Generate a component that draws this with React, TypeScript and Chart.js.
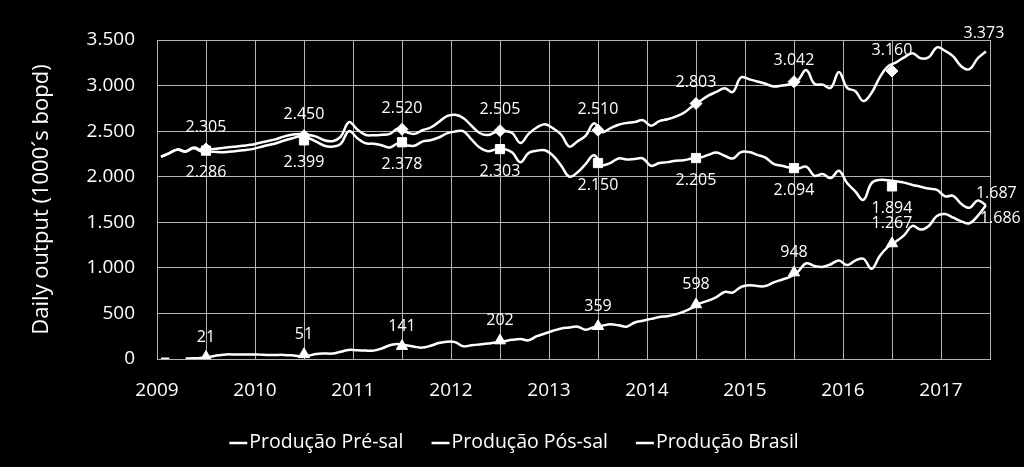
import React, { useEffect, useRef } from 'react';
import { Chart, registerables } from 'chart.js';

Chart.register(...registerables);

const FONT = '"Open Sans", sans-serif';
const GRID = '#b4b4b4';

// Monthly production, Jan 2009 .. Jun 2017 (1000 bopd)
const startYear = 2009;

const brasilMonthly = [
  2220, 2260, 2300, 2280, 2320, 2290, 2300, 2310, 2320, 2330, 2340, 2350,
  2370, 2390, 2410, 2440, 2460, 2470, 2460, 2440, 2400, 2390, 2440, 2600,
  2520, 2460, 2455, 2460, 2470, 2525, 2490, 2470, 2510, 2540, 2600, 2665,
  2680, 2645, 2560, 2480, 2457, 2490, 2500, 2480, 2370, 2470, 2540, 2575,
  2530, 2460, 2330, 2390, 2450, 2585, 2490, 2530, 2570, 2590, 2600, 2620,
  2560, 2610, 2630, 2660, 2700, 2770, 2830, 2890, 2930, 2970, 2930, 3090,
  3070, 3045, 3020, 2990, 3000, 3015, 3060, 3170, 3020, 3010, 2975, 3150,
  2975, 2940, 2830, 2920, 3090, 3210, 3255, 3310, 3355, 3300, 3310, 3420,
  3380, 3320, 3210, 3180, 3300, 3373,
];

const posSalMonthly = [
  2218, 2257, 2295, 2275, 2312, 2275, 2275, 2270, 2270, 2280, 2290, 2300,
  2322, 2345, 2365, 2395, 2420, 2440, 2425, 2385, 2340, 2330, 2360, 2500,
  2425, 2368, 2362, 2345, 2320, 2365, 2345, 2340, 2385, 2400, 2430, 2475,
  2495, 2500, 2410, 2320, 2280, 2300, 2305, 2265, 2160, 2260, 2285, 2290,
  2230, 2120, 2000, 2050, 2140, 2235, 2130, 2150, 2200, 2190, 2195, 2200,
  2120, 2150, 2160, 2175, 2180, 2200, 2210, 2240, 2265, 2230, 2200, 2270,
  2270, 2240, 2210, 2140, 2120, 2100, 2090, 2110, 2010, 2030, 1985, 2065,
  1930, 1840, 1745, 1930, 1965, 1960, 1950, 1935, 1910, 1890, 1870, 1855,
  1785, 1790, 1700, 1660, 1740, 1687,
];

const preSalMonthly: (number | null)[] = [
  2, 3, null, 5, 8, 15, 25, 40, 50, 50, 50, 50,
  48, 45, 45, 45, 40, 30, 35, 55, 60, 60, 80, 100,
  95, 92, 92, 115, 150, 165, 150, 135, 125, 145, 175, 190,
  185, 140, 150, 160, 170, 180, 195, 210, 220, 205, 250, 280,
  310, 335, 345, 355, 320, 350, 365, 380, 370, 355, 400, 420,
  440, 460, 470, 490, 520, 560, 610, 640, 680, 735, 730, 790,
  810, 800, 800, 840, 870, 900, 960, 1050, 1020, 1010, 1040, 1080,
  1030, 1080, 1100, 990, 1130, 1230, 1290, 1360, 1460, 1420, 1460, 1570,
  1590, 1550, 1510, 1490, 1570, 1686,
];

// Annual averages shown with markers at mid-year
const markerYears = [2009.5, 2010.5, 2011.5, 2012.5, 2013.5, 2014.5, 2015.5, 2016.5];
const brasilAnnual = [2305, 2450, 2520, 2505, 2510, 2803, 3042, 3160];
const posSalAnnual = [2286, 2399, 2378, 2303, 2150, 2205, 2094, 1894];
const preSalAnnual = [21, 51, 141, 202, 359, 598, 948, 1267];

const seriesNames = ['Produção Pré-sal', 'Produção Pós-sal', 'Produção Brasil'];
const yAxisTitle = 'Daily output (1000´s bopd)';

const fmt = (v: number) =>
  Math.round(v).toString().replace(/\B(?=(\d{3})+(?!\d))/g, '.');

const monthPoints = (arr: (number | null)[]) =>
  arr.map((v, i) => ({ x: startYear + (i + 0.5) / 12, y: v }));
const annualPoints = (arr: number[]) => arr.map((v, i) => ({ x: markerYears[i], y: v }));

const labelPlugin = {
  id: 'valueLabels',
  afterDatasetsDraw(chart: any) {
    const ctx = chart.ctx;
    ctx.save();
    ctx.font = `16px ${FONT}`;
    ctx.fillStyle = '#ffffff';
    ctx.textBaseline = 'middle';
    chart.data.datasets.forEach((ds: any, i: number) => {
      const meta = chart.getDatasetMeta(i);
      if (ds.labelDy !== undefined) {
        ctx.textAlign = 'center';
        meta.data.forEach((el: any, j: number) => {
          ctx.fillText(fmt(ds.data[j].y), el.x, el.y + ds.labelDy);
        });
      }
      if (ds.endLabel) {
        let j = ds.data.length - 1;
        while (j >= 0 && ds.data[j].y == null) j--;
        const el = meta.data[j];
        ctx.textAlign = ds.endLabel.align;
        ctx.fillText(fmt(ds.data[j].y), el.x + ds.endLabel.dx, el.y + ds.endLabel.dy);
      }
    });
    ctx.restore();
  },
};

// Legend drawn as: short line + label, items centred under the chart
const legendPlugin = {
  id: 'bottomLegend',
  afterDraw(chart: any) {
    const ctx = chart.ctx;
    const items = chart.data.datasets.filter((d: any) => !d.isMarker);
    const dash = 18;
    const dashGap = 2;
    const itemGap = 28;
    const y = 442;
    ctx.save();
    ctx.font = `19.5px ${FONT}`;
    ctx.textBaseline = 'middle';
    ctx.textAlign = 'left';
    const widths = items.map((d: any) => ctx.measureText(d.label).width);
    const total =
      widths.reduce((a: number, b: number) => a + b, 0) +
      items.length * (dash + dashGap) +
      (items.length - 1) * itemGap;
    let x = 514 - total / 2;
    items.forEach((d: any, i: number) => {
      ctx.strokeStyle = d.borderColor;
      ctx.lineWidth = 2.5;
      ctx.beginPath();
      ctx.moveTo(x, y + 1);
      ctx.lineTo(x + dash, y + 1);
      ctx.stroke();
      x += dash + dashGap;
      ctx.fillStyle = '#ffffff';
      ctx.fillText(d.label, x, y);
      x += widths[i] + itemGap;
    });
    ctx.restore();
  },
};

export default function App() {
  const ref = useRef<HTMLCanvasElement | null>(null);

  useEffect(() => {
    if (!ref.current) return;
    Chart.defaults.font.family = FONT;
    const xAxisHeight = 50;
    const layoutBottom = 467 - 359 - xAxisHeight;

    const lineBase = {
      type: 'line' as const,
      borderColor: '#ffffff',
      backgroundColor: '#ffffff',
      borderWidth: 2.5,
      pointRadius: 0,
      pointHoverRadius: 0,
      tension: 0.4,
      spanGaps: false,
      fill: false,
    };
    const markerBase = {
      type: 'line' as const,
      showLine: false,
      borderColor: '#ffffff',
      backgroundColor: '#ffffff',
      pointRadius: 6,
      pointBorderWidth: 1,
      isMarker: true,
    };

    const chart = new Chart(ref.current, {
      type: 'line',
      data: {
        datasets: [
          { ...lineBase, label: seriesNames[0], data: monthPoints(preSalMonthly), endLabel: { dx: -6, dy: 13, align: 'left' } } as any,
          { ...lineBase, label: seriesNames[1], data: monthPoints(posSalMonthly), endLabel: { dx: -10, dy: -12, align: 'left' } } as any,
          { ...lineBase, label: seriesNames[2], data: monthPoints(brasilMonthly), endLabel: { dx: -2, dy: -18, align: 'center' } } as any,
          { ...markerBase, label: 'pre-annual', data: annualPoints(preSalAnnual), pointStyle: 'triangle', pointRadius: 6.5, labelDy: -20 } as any,
          { ...markerBase, label: 'pos-annual', data: annualPoints(posSalAnnual), pointStyle: 'rect', pointRadius: 6.5, labelDy: 22 } as any,
          { ...markerBase, label: 'brasil-annual', data: annualPoints(brasilAnnual), pointStyle: 'rectRot', pointRadius: 6, labelDy: -21 } as any,
        ],
      },
      options: {
        animation: false,
        responsive: true,
        maintainAspectRatio: false,
        events: [],
        layout: { padding: { left: 0, right: 34, top: 40, bottom: layoutBottom } },
        scales: {
          x: {
            type: 'linear',
            min: 2009,
            max: 2017.5,
            afterFit: (s: any) => { s.height = xAxisHeight; },
            ticks: {
              stepSize: 0.5,
              autoSkip: false,
              maxRotation: 0,
              color: '#ffffff',
              font: { size: 19, family: FONT },
              padding: 20,
              callback: (v: any) => (Number.isInteger(Number(v)) ? String(v) : ''),
            },
            grid: { color: GRID, lineWidth: 1, drawTicks: false },
            border: { color: GRID },
          },
          y: {
            min: 0,
            max: 3500,
            afterFit: (s: any) => { s.width = 157; },
            ticks: {
              stepSize: 500,
              color: '#ffffff',
              font: { size: 19, family: FONT },
              padding: 22,
              callback: (v: any) => fmt(Number(v)),
            },
            grid: { color: GRID, lineWidth: 1, drawTicks: false },
            border: { color: GRID },
            title: {
              display: true,
              text: yAxisTitle,
              color: '#ffffff',
              font: { size: 22, family: FONT },
              padding: { top: 29, bottom: 0 },
            },
          },
        },
        plugins: {
          tooltip: { enabled: false },
          legend: { display: false },
        },
      } as any,
      plugins: [labelPlugin, legendPlugin],
    });
    return () => chart.destroy();
  }, []);

  return (
    <div style={{ position: 'fixed', left: 0, top: 0, width: 1024, height: 467, background: '#000' }}>
      <canvas ref={ref} />
    </div>
  );
}
